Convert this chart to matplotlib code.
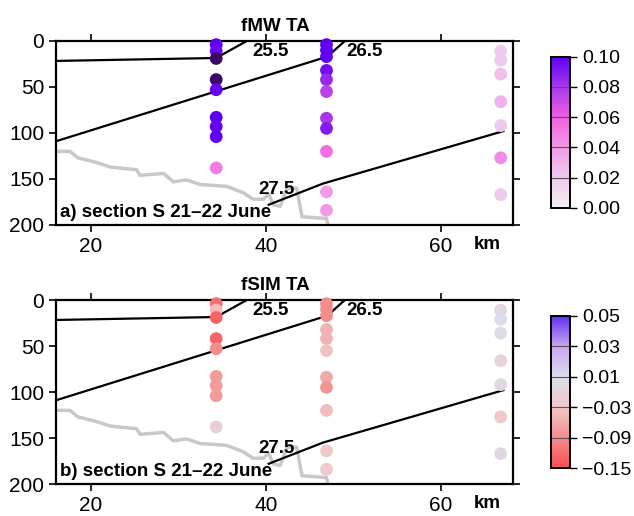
import matplotlib
matplotlib.use("Agg")
import matplotlib.pyplot as plt
import numpy as np
from matplotlib import colors

plt.rcParams['font.family'] = ['Liberation Sans', 'DejaVu Sans']

# station positions (km) and sample depths (m)
stations = [34.3, 46.9, 66.8]
depth1 = [4, 11, 19, 42, 53, 83, 93, 104, 138]
depth2 = [4, 10, 17, 32, 42, 55, 84, 95, 120, 164, 184]
depth3 = [11, 21, 36, 66, 92, 127, 167]

# fMW fraction
fmw1 = [0.10, 0.097, 0.15, 0.13, 0.098, 0.10, 0.10, 0.10, 0.05]
fmw2 = [0.10, 0.10, 0.10, 0.095, 0.085, 0.075, 0.08, 0.09, 0.055, 0.04, 0.04]
fmw3 = [0.02, 0.02, 0.025, 0.03, 0.02, 0.045, 0.02]

# fSIM fraction
fsim1 = [-0.12, -0.04, -0.13, -0.13, -0.09, -0.075, -0.075, -0.075, -0.015]
fsim2 = [-0.09, -0.09, -0.09, -0.05, -0.05, -0.035, -0.06, -0.08, -0.04, -0.03, -0.025]
fsim3 = [0.0, 0.01, 0.005, -0.01, 0.0, -0.03, 0.0]

# isopycnals
iso255_x = [16, 34.3, 37.8]
iso255_y = [21.7, 18.5, 0]
iso265_x = [16, 47, 49]
iso265_y = [109, 17, 0]
iso275_x = [40.3, 46.5, 67.1]
iso275_y = [178, 155, 98]

# bottom depth
bot_x = [16, 17.6, 18.5, 20.6, 22.2, 25.2, 25.6, 28.3, 29.4, 30.9, 32.5, 35.5, 37.4,
         38.5, 39.7, 40.3, 40.8, 41.6, 42.4, 43.5, 44.1, 46.9, 47.2]
bot_y = [120, 120, 127, 132, 137, 140, 146, 144, 153, 151, 156, 158, 165,
         172, 172, 166, 178, 180, 160, 160, 191, 193, 205]

fmw_ticks = [0.00, 0.02, 0.04, 0.06, 0.08, 0.10]
fsim_ticks = [-0.15, -0.09, -0.03, 0.01, 0.03, 0.05]

cmap_mw = colors.LinearSegmentedColormap.from_list(
    'mw', ['#f2eef2', '#eecaee', '#f09ae8', '#f060e4', '#a838ec', '#6000f4'])
cmap_mw.set_over('#3c0868')
norm_mw = colors.Normalize(0.0, 0.10)

cmap_sim = colors.LinearSegmentedColormap.from_list(
    'sim', ['#f85050', '#f48c8c', '#f0c8c8', '#dcdcec', '#c8a4f0', '#6030f0'])
pos = np.linspace(0, 1, len(fsim_ticks))
norm_sim = colors.FuncNorm((lambda v: np.interp(v, fsim_ticks, pos),
                            lambda p: np.interp(p, pos, fsim_ticks)),
                           vmin=-0.15, vmax=0.05)

fig = plt.figure(figsize=(6.34, 5.16), dpi=100)
ax1 = fig.add_axes([0.0883, 0.564, 0.7208, 0.3566])
ax2 = fig.add_axes([0.0883, 0.062, 0.7208, 0.3566])
cax1 = fig.add_axes([0.869, 0.597, 0.030, 0.293])
cax2 = fig.add_axes([0.869, 0.093, 0.030, 0.295])

panels = [(ax1, cax1, [fmw1, fmw2, fmw3], cmap_mw, norm_mw, fmw_ticks, 'fMW TA',
           'a) section S 21\u201322 June'),
          (ax2, cax2, [fsim1, fsim2, fsim3], cmap_sim, norm_sim, fsim_ticks, 'fSIM TA',
           'b) section S 21\u201322 June')]

for ax, cax, vals, cmap, norm, ticks, title, label in panels:
    ax.plot(bot_x, bot_y, color='#c8c8c8', lw=2.5, zorder=1)
    ax.plot(iso255_x, iso255_y, color='black', lw=1.6, zorder=2)
    ax.plot(iso265_x, iso265_y, color='black', lw=1.6, zorder=2)
    ax.plot(iso275_x, iso275_y, color='black', lw=1.6, zorder=2)
    sc = None
    for xs, d, v in zip(stations, [depth1, depth2, depth3], vals):
        sc = ax.scatter([xs] * len(d), d, c=v, cmap=cmap, norm=norm, s=85,
                        edgecolors='none', zorder=3, clip_on=False)
    ax.text(40.5, 11, '25.5', fontsize=13.5, fontweight='bold', ha='center', va='center')
    ax.text(51.2, 11, '26.5', fontsize=13.5, fontweight='bold', ha='center', va='center')
    ax.text(41.2, 161, '27.5', fontsize=13.5, fontweight='bold', ha='center', va='center')
    ax.text(0.008, 0.02, label, transform=ax.transAxes, fontsize=13.5,
            fontweight='bold', ha='left', va='bottom', zorder=5)
    ax.text(0.943, -0.06, 'km', transform=ax.transAxes, fontsize=13.5,
            fontweight='bold', ha='center', va='top')
    ax.set_title(title, fontsize=13.5, fontweight='bold', x=0.481, pad=7)

    ax.set_xlim(16, 68.2)
    ax.set_ylim(200, 0)
    ax.set_xticks([20, 40, 60])
    ax.set_yticks([0, 50, 100, 150, 200])
    ax.tick_params(direction='out', length=5, width=1.2, labelsize=15,
                   top=True, right=True, labeltop=False, labelright=False)
    for sp in ax.spines.values():
        sp.set_linewidth(1.6)

    cb = fig.colorbar(sc, cax=cax, extend='neither')
    cb.set_ticks(ticks)
    cb.set_ticklabels([('%.2f' % t).replace('-', '\u2212') for t in ticks])
    cb.ax.tick_params(direction='out', length=5, width=1.0, labelsize=14)
    cb.outline.set_linewidth(1.4)
    for t in ticks[1:-1]:
        cb.ax.axhline(t, color='#555555', lw=0.8)

fig.savefig('out.png', dpi=100)
